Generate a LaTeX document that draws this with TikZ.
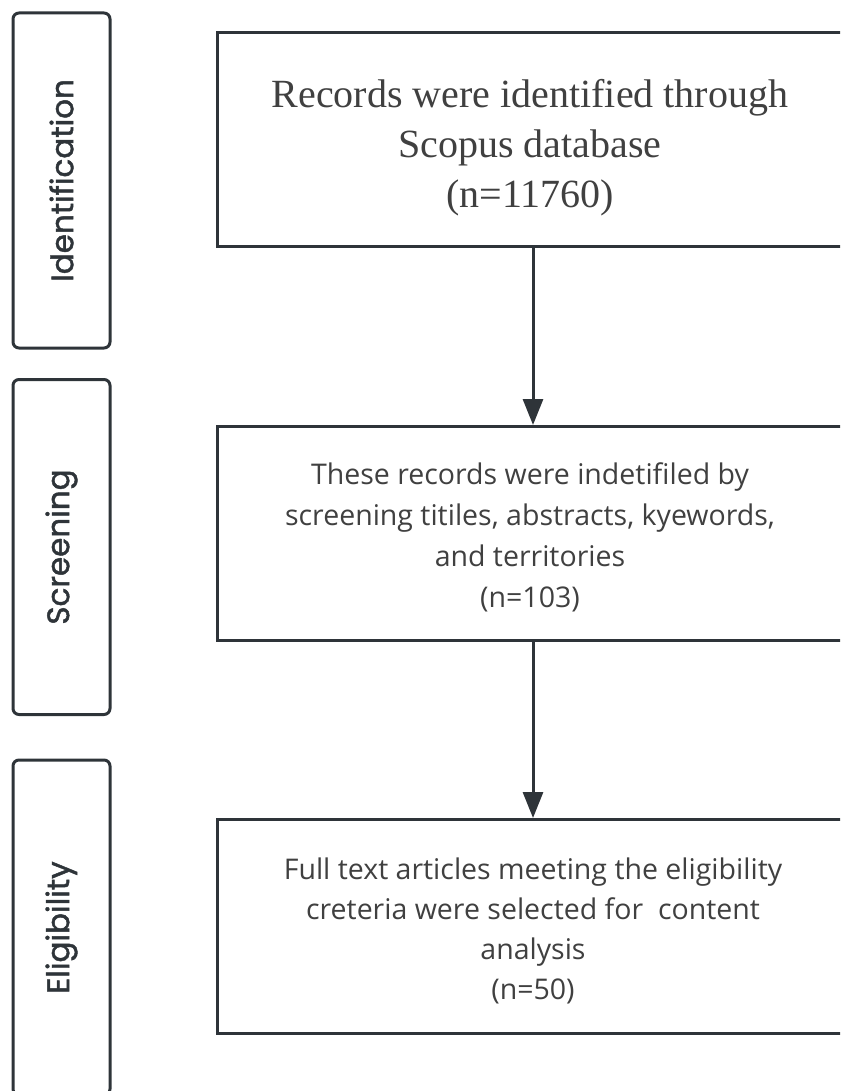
\documentclass[tikz,border=0pt]{standalone}
\usepackage{fontspec}
\usetikzlibrary{arrows.meta}
\newfontfamily\stagefont{Poppins}[FakeBold=1.5]
\newfontfamily\serifbox{Liberation Serif}
\newfontfamily\sansbox{Open Sans}
\definecolor{linec}{HTML}{2E3439}
\definecolor{textc}{HTML}{404040}
\begin{document}
\begin{tikzpicture}[x=1pt,y=-1pt,
  stage/.style={draw=linec,line width=3pt,rounded corners=6pt,minimum width=97pt,minimum height=335pt,inner sep=0pt},
  stagelabel/.style={rotate=90,text=linec,font=\stagefont\fontsize{31}{36}\selectfont},
  mainbox/.style={draw=linec,line width=3pt,minimum width=632pt,minimum height=214pt,inner sep=0pt},
  boxtext/.style={align=center,text=textc,inner sep=0pt},
  flow/.style={draw=linec,line width=3pt,-{Triangle[width=20pt,length=26pt]}}]
\useasboundingbox (0,0) rectangle (840,1091);
\clip (0,0) rectangle (840,1091);
\node[stage] (s1) at (61.5,180.5) {};
\node[stage] (s2) at (61.5,547) {};
\node[stage] (s3) at (61.5,927.5) {};
\node[stagelabel] (l1) at (s1.center) {Identification};
\node[stagelabel] (l2) at (s2.center) {Screening};
\node[stagelabel] (l3) at (s3.center) {Eligibility};
\node[mainbox] (b1) at (533,139.5) {};
\node[mainbox] (b2) at (533,533.5) {};
\node[mainbox] (b3) at (533,926.5) {};
\node[boxtext,font=\serifbox\fontsize{40}{50}\selectfont] (t1) at (530,148) {Records were identified through\\Scopus database\\(n=11760)};
\node[boxtext,font=\sansbox\fontsize{28.5}{41}\selectfont] (t2) at (530,537.5) {These records were indetifiled by\\screening titiles, abstracts, kyewords,\\and territories\\(n=103)};
\node[boxtext,font=\sansbox\fontsize{28.5}{40}\selectfont] (t3) at (533,931) {Full text articles meeting the eligibility\\creteria were selected for\ \ content\\analysis\\(n=50)};
\draw[flow] (b1.south) -- (b2.north);
\draw[flow] (b2.south) -- (b3.north);
\end{tikzpicture}
\end{document}
